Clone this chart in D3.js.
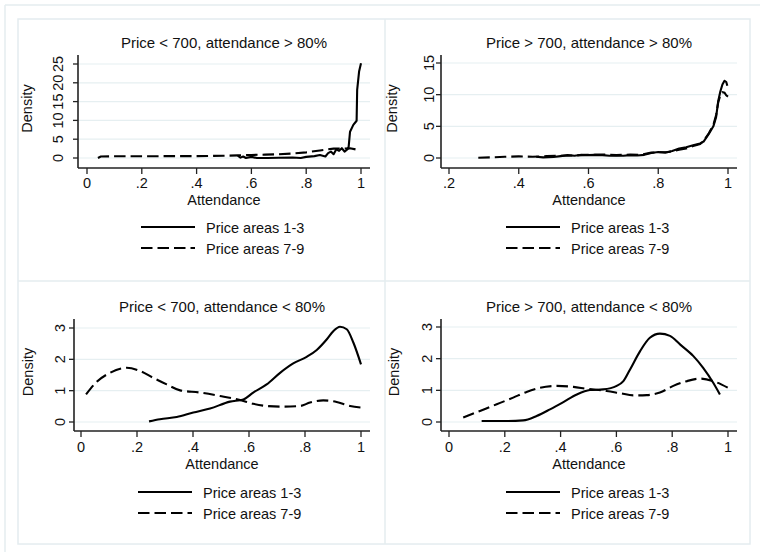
<!DOCTYPE html>
<html>
<head>
<meta charset="utf-8">
<script src="https://cdn.jsdelivr.net/npm/d3@7"></script>
<style>
body { margin: 0; background: #fff; }
text { font-family: Arial, "Liberation Sans", sans-serif; fill: #111; }
</style>
</head>
<body>
<svg id="chart" width="760" height="552"></svg>
<script>
// titles and legend
var titles = [
    "Price < 700, attendance > 80%",
    "Price > 700, attendance > 80%",
    "Price < 700, attendance < 80%",
    "Price > 700, attendance < 80%"
]
var legendLabels = ["Price areas 1-3", "Price areas 7-9"]

// tick values
var xTicksFull = [0, .2, .4, .6, .8, 1]
var xTicksHigh = [.2, .4, .6, .8, 1]
var yTicksTL = [0, 5, 10, 15, 20, 25]
var yTicksTR = [0, 5, 10, 15]
var yTicksLow = [0, 1, 2, 3]

// density curves, [attendance, density]
var tl13 = [[0.55,0.6],[0.56,0.1],[0.57,0.4],[0.58,0.0],[0.60,0.3],[0.62,0.0],[0.66,0.0],[0.70,0.05],[0.75,0.15],[0.78,0.0],[0.80,0.3],[0.83,0.5],[0.85,0.8],[0.87,0.4],[0.88,1.3],[0.89,1.7],[0.90,1.0],[0.91,2.3],[0.92,1.9],[0.93,2.6],[0.94,1.7],[0.952,2.4],[0.955,3.0],[0.96,7.0],[0.972,8.8],[0.984,9.9],[0.986,18.1],[0.993,23.0],[1.0,25.2]]
var tl79 = [[0.04,0.0],[0.05,0.4],[0.1,0.45],[0.2,0.45],[0.3,0.5],[0.4,0.5],[0.5,0.6],[0.55,0.7],[0.6,0.8],[0.65,0.9],[0.7,1.0],[0.75,1.2],[0.8,1.5],[0.85,2.0],[0.88,2.3],[0.9,2.5],[0.93,2.5],[0.96,2.6],[0.98,2.3]]
var tr13 = [[0.45,0.2],[0.47,0.1],[0.5,0.15],[0.52,0.3],[0.54,0.45],[0.56,0.35],[0.58,0.5],[0.6,0.45],[0.62,0.5],[0.64,0.45],[0.66,0.35],[0.68,0.4],[0.7,0.35],[0.72,0.45],[0.74,0.4],[0.76,0.5],[0.78,0.8],[0.8,0.95],[0.82,0.85],[0.84,1.1],[0.86,1.5],[0.88,1.7],[0.9,2.0],[0.92,2.3],[0.93,2.6],[0.945,3.8],[0.958,5.0],[0.966,6.5],[0.972,9.0],[0.978,10.5],[0.984,11.6],[0.99,12.2],[0.995,12.0],[0.998,11.4]]
var tr79 = [[0.284,0.05],[0.32,0.1],[0.36,0.2],[0.4,0.25],[0.44,0.2],[0.48,0.3],[0.52,0.35],[0.56,0.4],[0.6,0.5],[0.64,0.55],[0.68,0.45],[0.72,0.55],[0.75,0.5],[0.78,0.85],[0.8,0.9],[0.83,0.95],[0.86,1.3],[0.88,1.5],[0.9,1.9],[0.92,2.2],[0.93,2.7],[0.945,3.9],[0.958,5.2],[0.966,6.8],[0.972,8.8],[0.978,9.9],[0.984,10.4],[0.99,10.3],[0.995,9.9],[1.0,9.7]]
var bl13 = [[0.243,0.02],[0.282,0.09],[0.342,0.16],[0.401,0.30],[0.461,0.43],[0.532,0.65],[0.58,0.72],[0.615,0.94],[0.663,1.2],[0.711,1.57],[0.758,1.87],[0.806,2.08],[0.842,2.3],[0.878,2.64],[0.901,2.9],[0.925,3.04],[0.949,2.96],[0.973,2.53],[1.0,1.84]]
var bl79 = [[0.018,0.88],[0.056,1.28],[0.104,1.57],[0.163,1.73],[0.211,1.63],[0.258,1.41],[0.306,1.2],[0.354,1.01],[0.425,0.94],[0.496,0.83],[0.568,0.70],[0.615,0.58],[0.663,0.51],[0.723,0.49],[0.782,0.51],[0.818,0.62],[0.865,0.69],[0.913,0.64],[0.961,0.51],[1.0,0.46]]
var br13 = [[0.117,0.03],[0.207,0.03],[0.266,0.05],[0.314,0.19],[0.362,0.40],[0.41,0.63],[0.458,0.87],[0.505,1.01],[0.553,1.03],[0.601,1.14],[0.625,1.29],[0.649,1.66],[0.685,2.24],[0.72,2.66],[0.756,2.79],[0.792,2.72],[0.828,2.45],[0.876,2.08],[0.911,1.71],[0.947,1.24],[0.971,0.87]]
var br79 = [[0.051,0.14],[0.111,0.35],[0.171,0.56],[0.23,0.77],[0.278,0.95],[0.326,1.08],[0.386,1.14],[0.446,1.11],[0.493,1.05],[0.565,0.98],[0.613,0.91],[0.661,0.84],[0.709,0.85],[0.756,0.93],[0.804,1.14],[0.852,1.29],[0.9,1.37],[0.947,1.29],[1.0,1.08]]

// one entry per panel: data + where it sits
var panels = [
    {title: titles[0], s13: tl13, s79: tl79, xTicks: xTicksFull, yTicks: yTicksTL,
     xDom: [0, 1], yDom: [0, 25], xRange: [87, 361], yRange: [158, 64],
     axX: 78, axY: 168, right: 370, top: 55, ylabX: 63, densX: 32, xlabY: 187.5, attY: 204.5,
     titleY: 48, legY: 227, legX: 141, curve: d3.curveLinear},
    {title: titles[1], s13: tr13, s79: tr79, xTicks: xTicksHigh, yTicks: yTicksTR,
     xDom: [0.2, 1], yDom: [0, 15], xRange: [449, 728], yRange: [158, 63],
     axX: 441, axY: 168, right: 737, top: 55, ylabX: 434, densX: 397, xlabY: 187.5, attY: 204.5,
     titleY: 48, legY: 227, legX: 506, curve: d3.curveLinear},
    {title: titles[2], s13: bl13, s79: bl79, xTicks: xTicksFull, yTicks: yTicksLow,
     xDom: [0, 1], yDom: [0, 3], xRange: [81, 361], yRange: [422, 328],
     axX: 74, axY: 431, right: 370, top: 319, ylabX: 65, densX: 33, xlabY: 451.5, attY: 468.5,
     titleY: 312, legY: 492, legX: 138, curve: d3.curveMonotoneX},
    {title: titles[3], s13: br13, s79: br79, xTicks: xTicksFull, yTicks: yTicksLow,
     xDom: [0, 1], yDom: [0, 3], xRange: [449, 728], yRange: [422, 327],
     axX: 441, axY: 431, right: 737, top: 319, ylabX: 432, densX: 399, xlabY: 451.5, attY: 468.5,
     titleY: 312, legY: 492, legX: 506, curve: d3.curveMonotoneX}
]

var frameColor = "#e4ecef"
var gridColor = "#e6eff1"
var axisColor = "#222"
var dash = "11.5,5"

var svg = d3.select("#chart")

// outer frame and panel boxes
svg.append("line").attr("x1", 5).attr("x2", 5).attr("y1", 5).attr("y2", 552)
    .attr("stroke", frameColor).attr("stroke-width", 1.5)
svg.append("line").attr("x1", 5).attr("x2", 760).attr("y1", 5).attr("y2", 5)
    .attr("stroke", frameColor).attr("stroke-width", 1.5)
svg.append("rect").attr("x", 18).attr("y", 19).attr("width", 732).attr("height", 525)
    .attr("fill", "none").attr("stroke", frameColor).attr("stroke-width", 1.5)
svg.append("line").attr("x1", 385).attr("x2", 385).attr("y1", 19).attr("y2", 544)
    .attr("stroke", frameColor).attr("stroke-width", 1.5)
svg.append("line").attr("x1", 18).attr("x2", 750).attr("y1", 281).attr("y2", 281)
    .attr("stroke", frameColor).attr("stroke-width", 1.5)

function fmt(d) {
    if (d === 0) return "0"
    if (d === 1) return "1"
    return String(d).replace("0.", ".")
}

panels.forEach(function(p) {
    var g = svg.append("g")
    var x = d3.scaleLinear().domain(p.xDom).range(p.xRange)
    var y = d3.scaleLinear().domain(p.yDom).range(p.yRange)
    var mid = (p.axX + p.right) / 2

    // gridlines
    g.selectAll(".grid").data(p.yTicks).enter().append("line")
        .attr("x1", p.axX).attr("x2", p.right)
        .attr("y1", d => y(d)).attr("y2", d => y(d))
        .attr("stroke", gridColor).attr("stroke-width", 1.2)

    // axis lines
    g.append("line").attr("x1", p.axX).attr("x2", p.axX).attr("y1", p.top).attr("y2", p.axY)
        .attr("stroke", axisColor).attr("stroke-width", 1.6)
    g.append("line").attr("x1", p.axX).attr("x2", p.right).attr("y1", p.axY).attr("y2", p.axY)
        .attr("stroke", axisColor).attr("stroke-width", 1.6)

    // y ticks, labels rotated like Stata
    g.selectAll(".yt").data(p.yTicks).enter().append("line")
        .attr("x1", p.axX - 5).attr("x2", p.axX)
        .attr("y1", d => y(d)).attr("y2", d => y(d))
        .attr("stroke", axisColor).attr("stroke-width", 1.3)
    g.selectAll(".yl").data(p.yTicks).enter().append("text")
        .attr("transform", d => "translate(" + p.ylabX + "," + y(d) + ") rotate(-90)")
        .attr("text-anchor", "middle")
        .style("font-size", "14.5px")
        .text(fmt)

    // x ticks
    g.selectAll(".xt").data(p.xTicks).enter().append("line")
        .attr("x1", d => x(d)).attr("x2", d => x(d))
        .attr("y1", p.axY).attr("y2", p.axY + 6)
        .attr("stroke", axisColor).attr("stroke-width", 1.3)
    g.selectAll(".xl").data(p.xTicks).enter().append("text")
        .attr("x", d => x(d)).attr("y", p.xlabY)
        .attr("text-anchor", "middle")
        .style("font-size", "14.5px")
        .text(fmt)

    // axis titles
    g.append("text").attr("x", mid).attr("y", p.attY)
        .attr("text-anchor", "middle").style("font-size", "14.5px").text("Attendance")
    g.append("text")
        .attr("transform", "translate(" + p.densX + "," + ((p.top + p.axY) / 2 - 3) + ") rotate(-90)")
        .attr("text-anchor", "middle").style("font-size", "14.5px").text("Density")

    // panel title
    g.append("text").attr("x", mid).attr("y", p.titleY)
        .attr("text-anchor", "middle").style("font-size", "15px").text(p.title)

    // curves
    var line = d3.line().x(d => x(d[0])).y(d => y(d[1])).curve(p.curve)
    g.append("path").datum(p.s79).attr("d", line)
        .attr("fill", "none").attr("stroke", "#000").attr("stroke-width", 2.1)
        .attr("stroke-dasharray", dash)
    g.append("path").datum(p.s13).attr("d", line)
        .attr("fill", "none").attr("stroke", "#000").attr("stroke-width", 2.1)
        .attr("stroke-linejoin", "round")

    // legend
    legendLabels.forEach(function(lab, i) {
        var ly = p.legY + i * 21
        g.append("line").attr("x1", p.legX).attr("x2", p.legX + 54)
            .attr("y1", ly).attr("y2", ly)
            .attr("stroke", "#000").attr("stroke-width", 2.1)
            .attr("stroke-dasharray", i == 0 ? null : dash)
        g.append("text").attr("x", p.legX + 65).attr("y", ly + 5.5)
            .style("font-size", "14.5px").text(lab)
    })
})
</script>
</body>
</html>
